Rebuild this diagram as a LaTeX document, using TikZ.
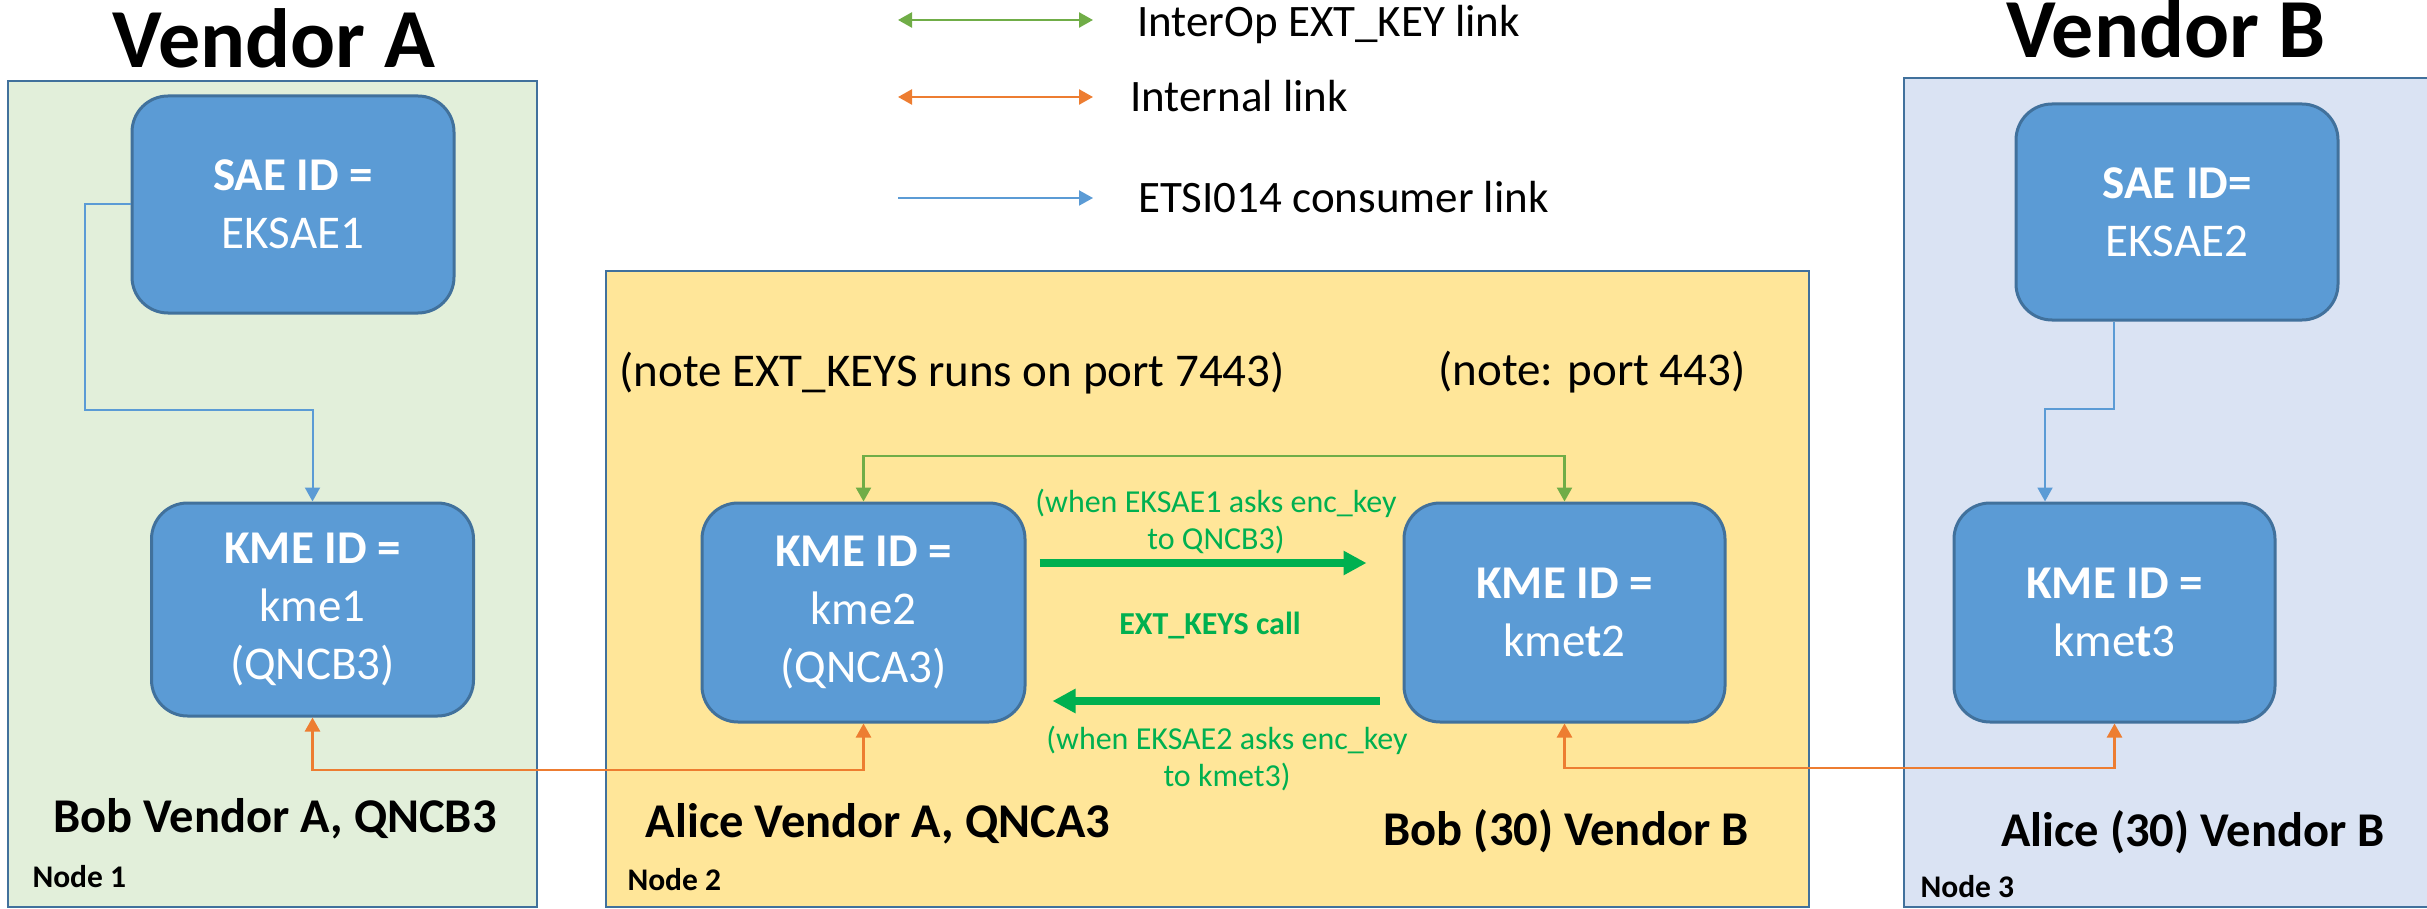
\documentclass[tikz,border=0pt]{standalone}
\usepackage{fontspec}
\setmainfont{Carlito}
\usetikzlibrary{arrows.meta,calc}

\definecolor{panelgreen}{HTML}{E2EFDA}
\definecolor{panelyellow}{HTML}{FFE699}
\definecolor{panelblue}{HTML}{DAE3F3}
\definecolor{paneledge}{HTML}{41719C}
\definecolor{boxfill}{HTML}{5B9BD5}
\definecolor{boxedge}{HTML}{41719C}
\definecolor{callgreen}{HTML}{00B050}
\definecolor{interopgreen}{HTML}{70AD47}
\definecolor{internalorange}{HTML}{ED7D31}
\definecolor{consumerblue}{HTML}{5B9BD5}

\begin{document}
\begin{tikzpicture}[
  x=1pt, y=-1pt,
  panel/.style={draw=paneledge, line width=2pt},
  kbox/.style={draw=boxedge, fill=boxfill, line width=3pt, rounded corners=36pt,
    text=white, align=center, inner sep=0pt, minimum width=322pt,
    font=\fontsize{47}{58}\selectfont},
  vendor/.style={font=\bfseries\fontsize{84}{90}\selectfont, anchor=base},
  site/.style={font=\bfseries\fontsize{48.5}{56}\selectfont, anchor=base},
  nodetag/.style={font=\bfseries\fontsize{31.5}{36}\selectfont, anchor=base west},
  note/.style={font=\fontsize{47}{56}\selectfont, anchor=base west},
  legendtext/.style={font=\fontsize{45}{54}\selectfont, anchor=base west, inner sep=0pt},
  calllabel/.style={text=callgreen, align=center, font=\fontsize{32}{37}\selectfont},
  smalltip/.tip={Triangle[length=14pt,width=15pt]},
  consumer/.style={draw=consumerblue, line width=2pt, -smalltip},
  internal/.style={draw=internalorange, line width=2.5pt, smalltip-smalltip},
  interop/.style={draw=interopgreen, line width=2.5pt, smalltip-smalltip},
  callarrow/.style={draw=callgreen, line width=8pt, -{Triangle[length=23pt,width=23pt]}},
]
\useasboundingbox (0,0) rectangle (2427,909);
\clip (0,0) rectangle (2427,909);

% ---- site panels ----
\path[panel, fill=panelgreen]  (8,81)    rectangle (537,907);
\path[panel, fill=panelyellow] (606,271) rectangle (1809,907);
\path[panel, fill=panelblue]   (1904,78) rectangle (2440,907);

% ---- vendor headings ----
\node[vendor] (vendA) at (274,68) {Vendor A};
\node[vendor] (vendB) at (2166,58) {Vendor B};

% ---- legend ----
\coordinate (lg1a) at (898,20);  \coordinate (lg1b) at (1093,20);
\coordinate (lg2a) at (898,97);  \coordinate (lg2b) at (1093,97);
\coordinate (lg3a) at (898,198); \coordinate (lg3b) at (1093,198);
\draw[interop]  (lg1a) -- (lg1b);
\draw[internal] (lg2a) -- (lg2b);
\draw[consumer] (lg3a) -- (lg3b);
\node[legendtext] (lgt1) at (1137,37)  {InterOp EXT\_KEY link};
\node[legendtext] (lgt2) at (1130,112) {Internal link};
\node[legendtext] (lgt3) at (1138,213) {ETSI014 consumer link};

% ---- key management entities and SAEs ----
\node[kbox, minimum height=217pt] (saeA) at (293,204.5)
  {\textbf{SAE ID =}\\EKSAE1};
\node[kbox, minimum height=213pt] (kme1) at (312.5,609.5)
  {\textbf{KME ID =}\\kme1\\(QNCB3)};
\node[kbox, minimum width=323pt, minimum height=219pt] (kme2) at (863.5,612.5)
  {\textbf{KME ID =}\\kme2\\(QNCA3)};
\node[kbox, minimum width=321pt, minimum height=219pt] (kmet2) at (1564.5,612.5)
  {\textbf{KME ID =}\\kme\textbf{t}2};
\node[kbox, minimum height=216pt] (sae2) at (2177,212)
  {\textbf{SAE ID=}\\EKSAE2};
\node[kbox, minimum width=321pt, minimum height=219pt] (kmet3) at (2114.5,612.5)
  {\textbf{KME ID =}\\kme\textbf{t}3};

% ---- notes ----
\node[note] (noteA) at (616,386) {(note EXT\_KEYS runs on port 7443)};
\node[note] (noteB) at (1435,385) {(note: port 443)};

% ---- ETSI014 consumer links ----
\coordinate (ca) at (85,410);
\draw[consumer] (saeA.west) -| (ca) -| (kme1.north);
\coordinate (cb) at (2045,409);
\draw[consumer] ([xshift=-63pt]sae2.south) |- (cb) -- (cb |- kmet3.north);

% ---- InterOp EXT_KEY link ----
\coordinate (gi) at (1214,456);
\draw[interop] (kme2.north) |- (gi) -| (kmet2.north);

% ---- internal links ----
\coordinate (oa) at (600,770);
\draw[internal] (kme1.south) |- (oa) -| (kme2.south);
\coordinate (ob) at (1850,768);
\draw[internal] (kmet2.south) |- (ob) -| (kmet3.south);

% ---- EXT_KEYS calls ----
\draw[callarrow] ([shift={(13,-49.5)}]kme2.east) -- ([shift={(-36,-49.5)}]kmet2.west);
\draw[callarrow] ([shift={(-23,88.5)}]kmet2.west) -- ([shift={(26,88.5)}]kme2.east);
\node[calllabel] (reqA) at (1216,522) {(when EKSAE1 asks enc\_key\\to QNCB3)};
\node[calllabel, font=\bfseries\fontsize{32}{37}\selectfont] (callname) at (1210,626) {EXT\_KEYS call};
\node[calllabel] (reqB) at (1227,759) {(when EKSAE2 asks enc\_key\\to kmet3)};

% ---- site labels ----
\node[site] (siteA) at (275,832) {Bob Vendor A, QNCB3};
\node[site] (siteB) at (878,837) {Alice Vendor A, QNCA3};
\node[site] (siteC) at (1566,845) {Bob (30) Vendor B};
\node[site] (siteD) at (2193,846) {Alice (30) Vendor B};
\node[nodetag] (tag1) at (29,887)   {Node 1};
\node[nodetag] (tag2) at (624,890)  {Node 2};
\node[nodetag] (tag3) at (1917,897) {Node 3};
\end{tikzpicture}
\end{document}
